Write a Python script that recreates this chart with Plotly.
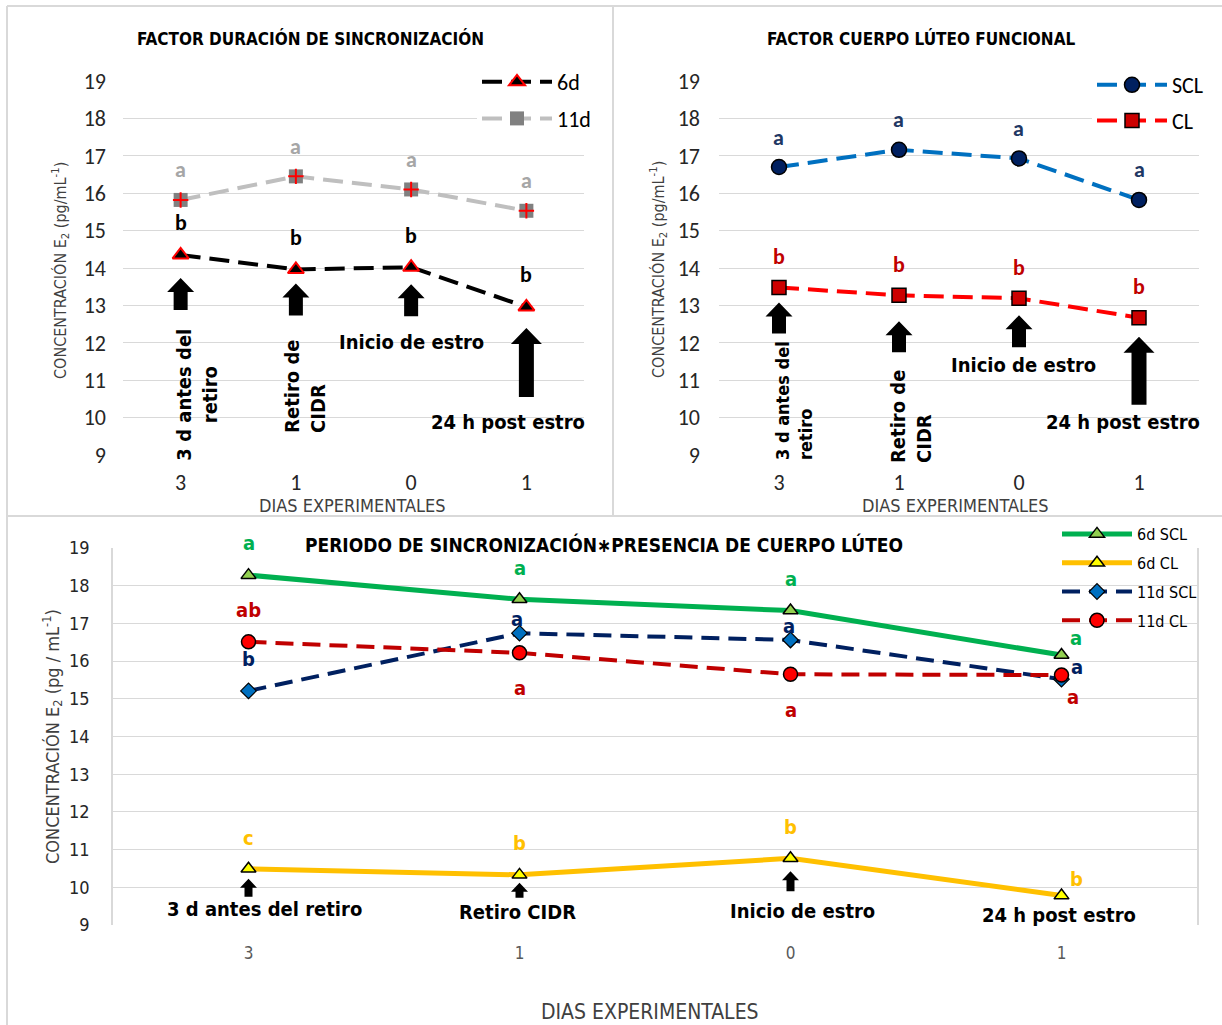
import plotly.graph_objects as go

# ---------------- data ----------------
days = ["3", "1", "0", "1"]

# Factor duración de sincronización
dur_6d = [14.35, 13.96, 14.02, 12.96]
dur_11d = [15.82, 16.45, 16.10, 15.53]
dur_6d_letters = ["b", "b", "b", "b"]
dur_11d_letters = ["a", "a", "a", "a"]

# Factor cuerpo lúteo funcional
cl_scl = [16.70, 17.16, 16.93, 15.82]
cl_cl = [13.48, 13.27, 13.19, 12.67]
cl_scl_letters = ["a", "a", "a", "a"]
cl_cl_letters = ["b", "b", "b", "b"]

# Interacción
int_6d_scl = [18.28, 17.64, 17.34, 16.16]
int_6d_cl = [10.49, 10.33, 10.77, 9.78]
int_11d_scl = [15.21, 16.74, 16.56, 15.52]
int_11d_cl = [16.51, 16.22, 15.65, 15.63]
int_6d_scl_letters = ["a", "a", "a", "a"]
int_6d_cl_letters = ["c", "b", "b", "b"]
int_11d_scl_letters = ["b", "a", "a", "a"]
int_11d_cl_letters = ["ab", "a", "a", "a"]

events_top = ["3 d antes del<br>retiro", "Retiro de<br>CIDR", "Inicio de estro", "24 h post estro"]
events_bottom = ["3 d antes del retiro", "Retiro CIDR", "Inicio de estro", "24 h post estro"]

titles = ["FACTOR DURACIÓN DE SINCRONIZACIÓN", "FACTOR CUERPO LÚTEO FUNCIONAL",
          "PERIODO DE SINCRONIZACIÓN\u2217PRESENCIA DE CUERPO LÚTEO"]
y_title_top = "CONCENTRACIÓN E<sub>2</sub> (pg/mL<sup>-1</sup>)"
y_title_bottom = "CONCENTRACIÓN E<sub>2</sub> (pg / mL<sup>-1</sup>)"
x_title = "DIAS EXPERIMENTALES"

# ---------------- layout helpers ----------------
W, H = 1222, 1025
def fx(p):
    return p / W
def fy(p):
    return 1 - p / H

NARROW = "Liberation Sans Narrow, Arial Narrow, DejaVu Sans Condensed, sans-serif"
CAL = "Carlito, Calibri, Lato, sans-serif"
GRID = "#d9d9d9"

x_idx = list(range(len(days)))

fig = go.Figure()

# ---- top-left traces
fig.add_trace(go.Scatter(x=x_idx, y=dur_6d, name="6d", mode="lines+markers", xaxis="x", yaxis="y",
                         legend="legend", legendgroup="a1",
                         line=dict(color="black", width=4, dash="20px,9px"),
                         marker=dict(symbol="triangle-up", size=14, color="black",
                                     line=dict(color="#ff0000", width=2))))
fig.add_trace(go.Scatter(x=x_idx, y=dur_11d, name="11d", mode="lines+markers", xaxis="x", yaxis="y",
                         legend="legend", legendgroup="a2",
                         line=dict(color="#bfbfbf", width=4, dash="20px,9px"),
                         marker=dict(symbol="square", size=14, color="#808080")))
fig.add_trace(go.Scatter(x=x_idx, y=dur_11d, mode="markers", xaxis="x", yaxis="y", showlegend=False,
                         hoverinfo="skip",
                         marker=dict(symbol="cross-thin", size=11, color="#ff0000",
                                     line=dict(color="#ff0000", width=2))))

# ---- top-right traces
fig.add_trace(go.Scatter(x=x_idx, y=cl_scl, name="SCL", mode="lines+markers", xaxis="x2", yaxis="y2",
                         legend="legend2", legendgroup="b1",
                         line=dict(color="#0070c0", width=4, dash="20px,9px"),
                         marker=dict(symbol="circle", size=15, color="#002060",
                                     line=dict(color="black", width=1.5))))
fig.add_trace(go.Scatter(x=x_idx, y=cl_cl, name="CL", mode="lines+markers", xaxis="x2", yaxis="y2",
                         legend="legend2", legendgroup="b2",
                         line=dict(color="#ff0000", width=4, dash="20px,9px"),
                         marker=dict(symbol="square", size=14, color="#cc0000",
                                     line=dict(color="black", width=1.5))))

# ---- bottom traces
fig.add_trace(go.Scatter(x=x_idx, y=int_6d_scl, name="6d SCL", mode="lines+markers", xaxis="x3", yaxis="y3",
                         legend="legend3", legendgroup="c1",
                         line=dict(color="#00b050", width=5),
                         marker=dict(symbol="triangle-up", size=13, color="#92d050",
                                     line=dict(color="black", width=1.5))))
fig.add_trace(go.Scatter(x=x_idx, y=int_6d_cl, name="6d CL", mode="lines+markers", xaxis="x3", yaxis="y3",
                         legend="legend3", legendgroup="c2",
                         line=dict(color="#ffc000", width=5),
                         marker=dict(symbol="triangle-up", size=13, color="#ffff00",
                                     line=dict(color="black", width=1.5))))
fig.add_trace(go.Scatter(x=x_idx, y=int_11d_scl, name="11d SCL", mode="lines+markers", xaxis="x3", yaxis="y3",
                         legend="legend3", legendgroup="c3",
                         line=dict(color="#002060", width=4, dash="18px,9px"),
                         marker=dict(symbol="diamond", size=12, color="#0070c0",
                                     line=dict(color="black", width=1.2))))
fig.add_trace(go.Scatter(x=x_idx, y=int_11d_cl, name="11d CL", mode="lines+markers", xaxis="x3", yaxis="y3",
                         legend="legend3", legendgroup="c4",
                         line=dict(color="#c00000", width=4, dash="18px,9px"),
                         marker=dict(symbol="circle", size=14, color="#ff0000",
                                     line=dict(color="black", width=1.5))))

annotations = []
shapes = []

def letters(xref, yref, values, labels, color, shifts, font=CAL, size=22):
    for i, (v, t) in enumerate(zip(values, labels)):
        dx, dy = shifts[i] if isinstance(shifts, list) else (0, shifts)
        annotations.append(dict(x=x_idx[i], y=v, xref=xref, yref=yref, text="<b>%s</b>" % t,
                                showarrow=False, xshift=dx, yshift=dy, xanchor="center", yanchor="middle",
                                font=dict(family=font, size=size, color=color)))

def arrow(xref, yref, i, v, standoff, reach, head_w, head_len, shaft_w):
    # standoff: gap from the point to the arrow tip; reach: point to arrow base (pixels)
    t = -standoff
    hb = -(standoff + head_len)
    b = -reach
    path = ("M %g,%g L %g,%g L %g,%g L %g,%g L 0,%g L %g,%g L %g,%g Z" %
            (-shaft_w / 2, b, shaft_w / 2, b, shaft_w / 2, hb, head_w / 2, hb, t,
             -head_w / 2, hb, -shaft_w / 2, hb))
    shapes.append(dict(type="path", xref=xref, yref=yref, xsizemode="pixel", ysizemode="pixel",
                       xanchor=x_idx[i], yanchor=v, path=path, fillcolor="black",
                       line=dict(width=0), layer="above"))

def event_label(xref, i, text, dx, ypix, size, angle=0, align="center"):
    annotations.append(dict(x=x_idx[i], y=fy(ypix), xref=xref, yref="paper", text="<b>%s</b>" % text,
                            showarrow=False, xshift=dx, textangle=angle, align=align,
                            xanchor="center", yanchor="middle",
                            font=dict(family=NARROW, size=size, color="black")))

def paper_text(text, xc, yc, size, color="black", angle=0):
    annotations.append(dict(x=fx(xc), y=fy(yc), xref="paper", yref="paper", text=text, textangle=angle,
                            showarrow=False, xanchor="center", yanchor="middle",
                            font=dict(family=NARROW, size=size, color=color)))

# ---- top-left annotations
letters("x", "y", dur_11d, dur_11d_letters, "#a6a6a6", 30)
letters("x", "y", dur_6d, dur_6d_letters, "black", 32)
for i, (so, rc, hw, hl, sw) in enumerate([(23, 55, 27, 14, 14), (14, 46, 27, 14, 14),
                                          (17, 49, 27, 14, 14), (21, 90, 31, 16, 15)]):
    arrow("x", "y", i, dur_6d[i], so, rc, hw, hl, sw)
event_label("x", 0, events_top[0], 16, 395, 20, -90, "center")
event_label("x", 1, events_top[1], 9, 386, 20, -90, "left")
event_label("x", 2, events_top[2], 0, 342, 20)
event_label("x", 3, events_top[3], -18, 422, 20)

# ---- top-right annotations
letters("x2", "y2", cl_scl, cl_scl_letters, "#1f3864", 30)
letters("x2", "y2", cl_cl, cl_cl_letters, "#c00000", 31)
for i, (so, rc, hw, hl, sw) in enumerate([(15, 46, 27, 14, 14), (26, 57, 27, 14, 14),
                                          (17, 49, 27, 14, 14), (19, 87, 31, 16, 15)]):
    arrow("x2", "y2", i, cl_cl[i], so, rc, hw, hl, sw)
event_label("x2", 0, events_top[0], 15, 400, 18, -90, "left")
event_label("x2", 1, events_top[1], 12, 416, 20, -90, "left")
event_label("x2", 2, events_top[2], 5, 365, 20)
event_label("x2", 3, events_top[3], -16, 422, 20)

# ---- bottom annotations
letters("x3", "y3", int_6d_scl, int_6d_scl_letters, "#00b050",
        [(0, 32), (0, 31), (0, 32), (14, 17)], NARROW, 20)
letters("x3", "y3", int_6d_cl, int_6d_cl_letters, "#ffc000",
        [(0, 31), (0, 32), (0, 31), (15, 17)], NARROW, 20)
letters("x3", "y3", int_11d_scl, int_11d_scl_letters, "#002060",
        [(0, 32), (-3, 14), (-2, 14), (15, 12)], NARROW, 20)
letters("x3", "y3", int_11d_cl, int_11d_cl_letters, "#c00000",
        [(0, 32), (0, -35), (0, -36), (11, -22)], NARROW, 20)
for i, (so, rc) in enumerate([(10, 28), (8, 23), (13, 33)]):
    arrow("x3", "y3", i, int_6d_cl[i], so, rc, 17, 9, 8)
event_label("x3", 0, events_bottom[0], 16, 909, 20)
event_label("x3", 1, events_bottom[1], -2, 912, 20)
event_label("x3", 2, events_bottom[2], 12, 911, 20)
event_label("x3", 3, events_bottom[3], -3, 915, 20)

# ---- titles
for text, xc, yc, size in [(titles[0], 310, 38, 17), (titles[1], 921, 38, 17), (titles[2], 604, 544, 19)]:
    paper_text("<b>%s</b>" % text, xc, yc, size)
for xc, yc, size in [(352, 505, 18), (955, 505, 18), (650, 1012, 21)]:
    paper_text(x_title, xc, yc, size, "#404040")
for text, xc, yc, size in [(y_title_top, 60, 270, 16), (y_title_top, 658, 270, 16), (y_title_bottom, 52, 737, 18)]:
    paper_text(text, xc, yc, size, "#404040", -90)

# ---- panel frames
FRAME = "#d9d9d9"
for x0, y0, x1, y1 in [(7, 6, W, 6), (7, 6, 7, H), (613, 6, 613, 516), (7, 516, W, 516)]:
    shapes.append(dict(type="line", xref="paper", yref="paper", x0=fx(x0), y0=fy(y0), x1=fx(x1), y1=fy(y1),
                       line=dict(color=FRAME, width=2), layer="below"))

def xaxis(domain, anchor, font, size, standoff, color):
    return dict(domain=domain, anchor=anchor, range=[-0.5, len(days) - 0.5], tickvals=x_idx, ticktext=days,
                showgrid=False, zeroline=False, ticks="", ticklabelstandoff=standoff,
                tickfont=dict(family=font, size=size, color=color), fixedrange=True)

def yaxis(domain, anchor, font, size, standoff, line):
    return dict(domain=domain, anchor=anchor, range=[9, 19], dtick=1, showgrid=True, gridcolor=GRID,
                gridwidth=1.3, zeroline=False, ticks="", ticklabelstandoff=standoff,
                showline=line, linecolor=GRID, linewidth=1.5, mirror=line,
                tickfont=dict(family=font, size=size, color="#262626"), fixedrange=True)

fig.update_layout(
    width=W, height=H, margin=dict(l=0, r=0, t=0, b=0, autoexpand=False),
    paper_bgcolor="white", plot_bgcolor="white",
    xaxis=xaxis([fx(123), fx(584)], "y", CAL, 22, 12, "#262626"),
    yaxis=yaxis([fy(455), fy(81)], "x", CAL, 22, 16, False),
    xaxis2=xaxis([fx(719), fx(1199)], "y2", CAL, 22, 12, "#262626"),
    yaxis2=yaxis([fy(455), fy(81)], "x2", CAL, 22, 18, False),
    xaxis3=xaxis([fx(113), fx(1197)], "y3", NARROW, 17, 16, "#595959"),
    yaxis3=yaxis([fy(925), fy(548)], "x3", NARROW, 18, 18, True),
    legend=dict(x=fx(477), y=fy(61), xanchor="left", yanchor="top", bgcolor="white",
                font=dict(family=CAL, size=22, color="black"), tracegroupgap=5, itemwidth=70),
    legend2=dict(x=fx(1092), y=fy(64), xanchor="left", yanchor="top", bgcolor="white",
                 font=dict(family=CAL, size=22, color="black"), tracegroupgap=4, itemwidth=70),
    legend3=dict(x=fx(1057), y=fy(517), xanchor="left", yanchor="top", bgcolor="rgba(0,0,0,0)",
                 font=dict(family=NARROW, size=16, color="black"), tracegroupgap=5, itemwidth=70),
    annotations=annotations, shapes=shapes, showlegend=True,
)

fig.write_html("out.html", config={"displayModeBar": False},
               post_script="document.body.style.margin='0';document.body.style.overflow='hidden';")
